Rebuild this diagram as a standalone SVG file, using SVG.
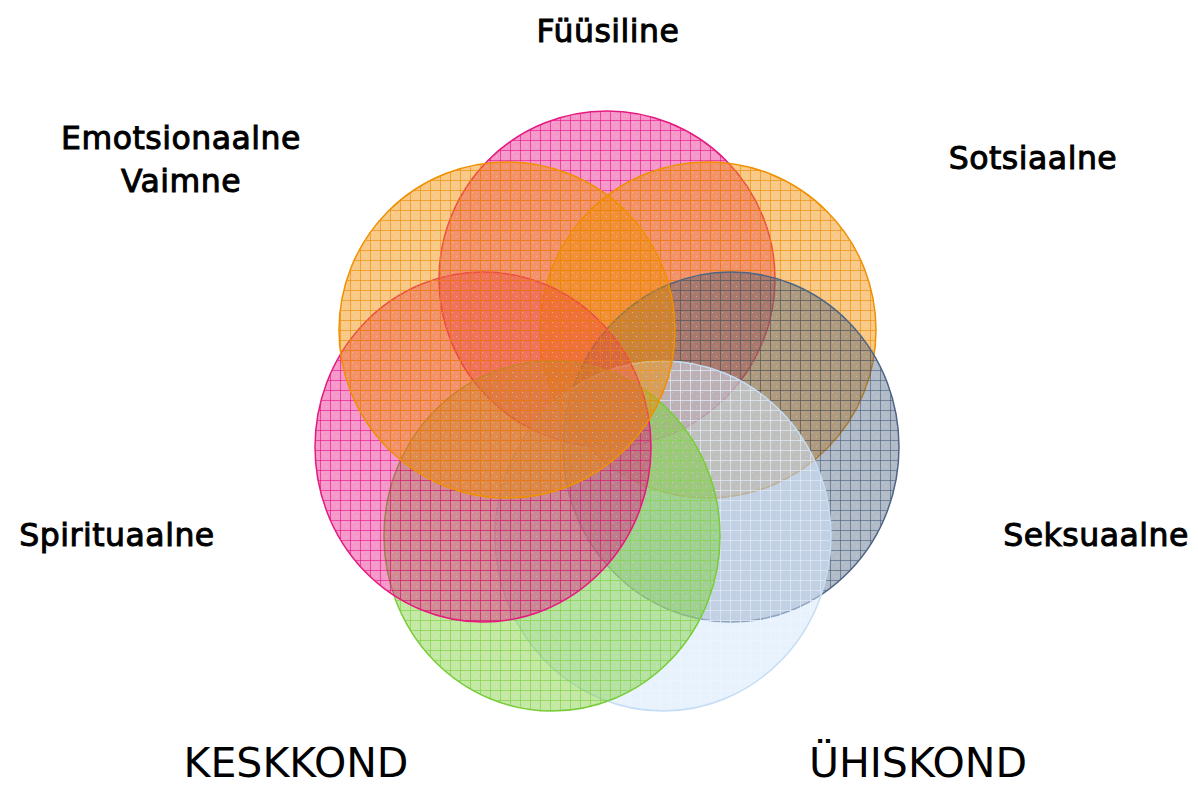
<svg xmlns="http://www.w3.org/2000/svg" width="1198" height="785" viewBox="0 0 1198 785">
<style>
.lbl{font-family:"DejaVu Sans","Liberation Sans",sans-serif;font-size:31.5px;fill:#000;stroke:#000;stroke-width:1;letter-spacing:0.5px;text-anchor:middle}
.big{font-family:"DejaVu Sans","Liberation Sans",sans-serif;font-size:41px;fill:#000;text-anchor:middle}
ellipse{stroke-width:1.5}
</style>
<defs>
<pattern id="pPink" width="10" height="10" patternUnits="userSpaceOnUse">
<rect width="10" height="10" fill="#e6007e" fill-opacity="0.4"/>
<rect x="2" y="2" width="1" height="1" fill="#fff" fill-opacity="0.25"/><rect x="6" y="6" width="1" height="1" fill="#fff" fill-opacity="0.25"/>
<path d="M0 0.5H10M0.5 0V10" stroke="#e6007e" stroke-opacity="0.55"/>
</pattern>
<pattern id="pOrange" width="10" height="10" patternUnits="userSpaceOnUse">
<rect width="10" height="10" fill="#f08c00" fill-opacity="0.47"/>
<rect x="2" y="2" width="1" height="1" fill="#fff" fill-opacity="0.25"/><rect x="6" y="6" width="1" height="1" fill="#fff" fill-opacity="0.25"/>
<path d="M0 0.5H10M0.5 0V10" stroke="#ee8a00" stroke-opacity="0.6"/>
</pattern>
<pattern id="pSlate" width="10" height="10" patternUnits="userSpaceOnUse">
<rect width="10" height="10" fill="#3f5675" fill-opacity="0.4"/>
<rect x="2" y="2" width="1" height="1" fill="#fff" fill-opacity="0.25"/><rect x="6" y="6" width="1" height="1" fill="#fff" fill-opacity="0.25"/>
<path d="M0 0.5H10M0.5 0V10" stroke="#3f5675" stroke-opacity="0.55"/>
</pattern>
<pattern id="pBlue" width="10" height="10" patternUnits="userSpaceOnUse">
<rect width="10" height="10" fill="#cfe6fb" fill-opacity="0.5"/>
<path d="M0 0.5H10M0.5 0V10" stroke="#eef6ff" stroke-opacity="0.7"/>
</pattern>
<pattern id="pGreen" width="10" height="10" patternUnits="userSpaceOnUse">
<rect width="10" height="10" fill="#7ccf3a" fill-opacity="0.46"/>
<rect x="2" y="2" width="1" height="1" fill="#fff" fill-opacity="0.25"/><rect x="6" y="6" width="1" height="1" fill="#fff" fill-opacity="0.25"/>
<path d="M0 0.5H10M0.5 0V10" stroke="#7ccf3a" stroke-opacity="0.6"/>
</pattern>
</defs>
<g id="c-fyysiline"><ellipse cx="607" cy="279" rx="168" ry="168" fill="url(#pPink)" stroke="#e5197e"/></g>
<g id="c-sotsiaalne"><ellipse cx="708" cy="330" rx="168" ry="168" fill="url(#pOrange)" stroke="#f09000"/></g>
<g id="c-seksuaalne"><ellipse cx="731" cy="447" rx="168" ry="175" fill="url(#pSlate)" stroke="#4f6583"/></g>
<g id="c-yhiskond"><ellipse cx="663" cy="536" rx="168" ry="175" fill="url(#pBlue)" stroke="#c4ddf5"/></g>
<g id="c-keskkond"><ellipse cx="552" cy="536" rx="168" ry="175" fill="url(#pGreen)" stroke="#78cc38"/></g>
<g id="c-spirituaalne"><ellipse cx="483" cy="447" rx="168" ry="175" fill="url(#pPink)" stroke="#e5197e"/></g>
<g id="c-emotsionaalne"><ellipse cx="507" cy="330" rx="168" ry="168" fill="url(#pOrange)" stroke="#f09000"/></g>
<g id="connectors"></g>
<g id="labels">
<text class="lbl" x="608" y="42">Füüsiline</text>
<text class="lbl" x="181" y="149">Emotsionaalne</text>
<text class="lbl" x="181" y="192">Vaimne</text>
<text class="lbl" x="1033" y="169">Sotsiaalne</text>
<text class="lbl" x="117" y="546">Spirituaalne</text>
<text class="lbl" x="1096" y="546">Seksuaalne</text>
<text class="big" x="296" y="777">KESKKOND</text>
<text class="big" x="918" y="777">ÜHISKOND</text>
</g>
</svg>
